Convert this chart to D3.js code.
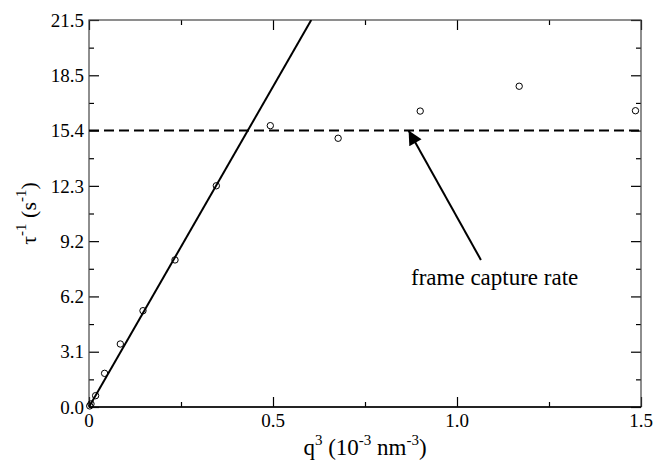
<!DOCTYPE html>
<html lang="en">
<head>
<meta charset="utf-8">
<title>tau inverse vs q cubed</title>
<script src="https://d3js.org/d3.v7.min.js"></script>
<style>
  body { margin: 0; background: #fff; }
  text { font-family: 'Liberation Serif', 'Times New Roman', serif; fill: #000; }
  .frame { fill: none; stroke: #444; stroke-width: 1.2px; }
  .tick line { stroke: #000; stroke-width: 1.2px; }
  .fit { fill: none; stroke: #000; stroke-width: 2px; }
  .rate { stroke: #000; stroke-width: 2px; stroke-dasharray: 10,5; }
  .pt { fill: none; stroke: #000; stroke-width: 1px; }
</style>
</head>
<body>
<svg id="chart" width="657" height="464"></svg>
<script>
// measured points (q^3 in 1e-3 nm^-3, 1/tau in s^-1)
var qCubed = [0.002, 0.0054, 0.018, 0.0424, 0.0851, 0.1467, 0.2337, 0.346, 0.4927, 0.677, 0.900, 1.169, 1.485];
var tauInv = [0.06, 0.17, 0.63, 1.87, 3.5, 5.35, 8.17, 12.29, 15.63, 14.93, 16.44, 17.82, 16.46];

var fitSlope = 35.6;          // straight line through origin
var captureRate = 21.5 * 5 / 7; // dashed line (15.4)

var xTicks = [0, 0.5, 1.0, 1.5];
var xTickLabels = ["0", "0.5", "1.0", "1.5"];
var xMinor = [0.25, 0.75, 1.25];
var yTickLabels = ["0.0", "3.1", "6.2", "9.2", "12.3", "15.4", "18.5", "21.5"];

var arrowTail = [1.065, 8.17];
var arrowTip = [0.8685, 15.36];
var noteAt = [0.875, 6.78];

var svg = d3.select("#chart"),
    margin = {top: 20, right: 16, bottom: 57, left: 89},
    width = +svg.attr("width") - margin.left - margin.right,
    height = +svg.attr("height") - margin.top - margin.bottom;

var g = svg.append("g").attr("transform", "translate(" + margin.left + "," + margin.top + ")");

var x = d3.scaleLinear().domain([0, 1.5]).range([0, width]);
var y = d3.scaleLinear().domain([0, 21.5]).range([height, 0]);

var yTicks = yTickLabels.map(function(d, i) { return 21.5 * i / 7; });
var yMinor = d3.range(7).map(function(i) { return 21.5 * (i + 0.5) / 7; });

// inward ticks on all four sides
function ticks(axis, vals, len) {
  return axis.tickValues(vals).tickSize(-len).tickFormat("");
}
g.append("g").attr("transform", "translate(0," + height + ")").call(ticks(d3.axisBottom(x), xTicks, 10));
g.append("g").attr("transform", "translate(0," + height + ")").call(ticks(d3.axisBottom(x), xMinor, 5));
g.append("g").call(ticks(d3.axisTop(x), xTicks, 10));
g.append("g").call(ticks(d3.axisTop(x), xMinor, 5));
g.append("g").call(ticks(d3.axisLeft(y), yTicks, 10));
g.append("g").call(ticks(d3.axisLeft(y), yMinor, 5));
g.append("g").attr("transform", "translate(" + width + ",0)").call(ticks(d3.axisRight(y), yTicks, 10));
g.append("g").attr("transform", "translate(" + width + ",0)").call(ticks(d3.axisRight(y), yMinor, 5));
g.selectAll(".domain").remove();

g.append("rect").attr("class", "frame").attr("width", width).attr("height", height);
g.append("line").attr("x1", 0).attr("x2", width).attr("y1", height).attr("y2", height)
  .style("stroke", "#000").style("stroke-width", 1.5);

// tick labels
g.selectAll(".xl").data(xTicks).enter().append("text")
  .attr("x", function(d) { return x(d); })
  .attr("y", height + 20)
  .attr("text-anchor", "middle")
  .style("font-size", "19px")
  .text(function(d, i) { return xTickLabels[i]; });

g.selectAll(".yl").data(yTicks).enter().append("text")
  .attr("x", -5)
  .attr("y", function(d) { return y(d); })
  .attr("dy", "0.35em")
  .attr("text-anchor", "end")
  .style("font-size", "19px")
  .text(function(d, i) { return yTickLabels[i]; });

// axis titles
var xt = svg.append("text")
  .attr("x", margin.left + x(0.75))
  .attr("y", 455)
  .attr("text-anchor", "middle")
  .style("font-size", "23px");
xt.append("tspan").text("q");
xt.append("tspan").attr("dy", -10).style("font-size", "15px").text("3");
xt.append("tspan").attr("dy", 10).text(" (10");
xt.append("tspan").attr("dy", -10).style("font-size", "15px").text("-3");
xt.append("tspan").attr("dy", 10).text(" nm");
xt.append("tspan").attr("dy", -10).style("font-size", "15px").text("-3");
xt.append("tspan").attr("dy", 10).text(")");

var yt = svg.append("text")
  .attr("transform", "translate(36," + (margin.top + height / 2) + ")rotate(-90)")
  .attr("text-anchor", "middle")
  .style("font-size", "22px");
yt.append("tspan").text("\u03c4");
yt.append("tspan").attr("dy", -10).style("font-size", "15px").text("-1");
yt.append("tspan").attr("dy", 10).text(" (s");
yt.append("tspan").attr("dy", -10).style("font-size", "15px").text("-1");
yt.append("tspan").attr("dy", 10).text(")");

// clip for the fit line
svg.append("clipPath").attr("id", "clip").append("rect").attr("width", width).attr("height", height);

g.append("line").attr("class", "rate")
  .attr("x1", 0).attr("x2", width)
  .attr("y1", y(captureRate)).attr("y2", y(captureRate));

var xEnd = 21.5 / fitSlope;
g.append("path").attr("class", "fit").attr("clip-path", "url(#clip)")
  .attr("d", d3.line()([[x(0), y(0)], [x(xEnd), y(fitSlope * xEnd)]]));

g.selectAll(".pt").data(qCubed).enter().append("circle")
  .attr("class", "pt")
  .attr("r", 3.2)
  .attr("cx", function(d) { return x(d); })
  .attr("cy", function(d, i) { return y(tauInv[i]); });

// arrow + note
svg.append("defs").append("marker")
  .attr("id", "head").attr("viewBox", "0 0 10 10")
  .attr("refX", 10).attr("refY", 5)
  .attr("markerWidth", 8).attr("markerHeight", 7)
  .attr("markerUnits", "strokeWidth")
  .attr("orient", "auto")
  .append("path").attr("d", "M0,0L10,5L0,10Z").attr("fill", "#000");

g.append("line")
  .attr("x1", x(arrowTail[0])).attr("y1", y(arrowTail[1]))
  .attr("x2", x(arrowTip[0])).attr("y2", y(arrowTip[1]))
  .style("stroke", "#000").style("stroke-width", 2)
  .attr("marker-end", "url(#head)");

g.append("text")
  .attr("x", x(noteAt[0])).attr("y", y(noteAt[1]))
  .style("font-size", "23px")
  .text("frame capture rate");
</script>
</body>
</html>
